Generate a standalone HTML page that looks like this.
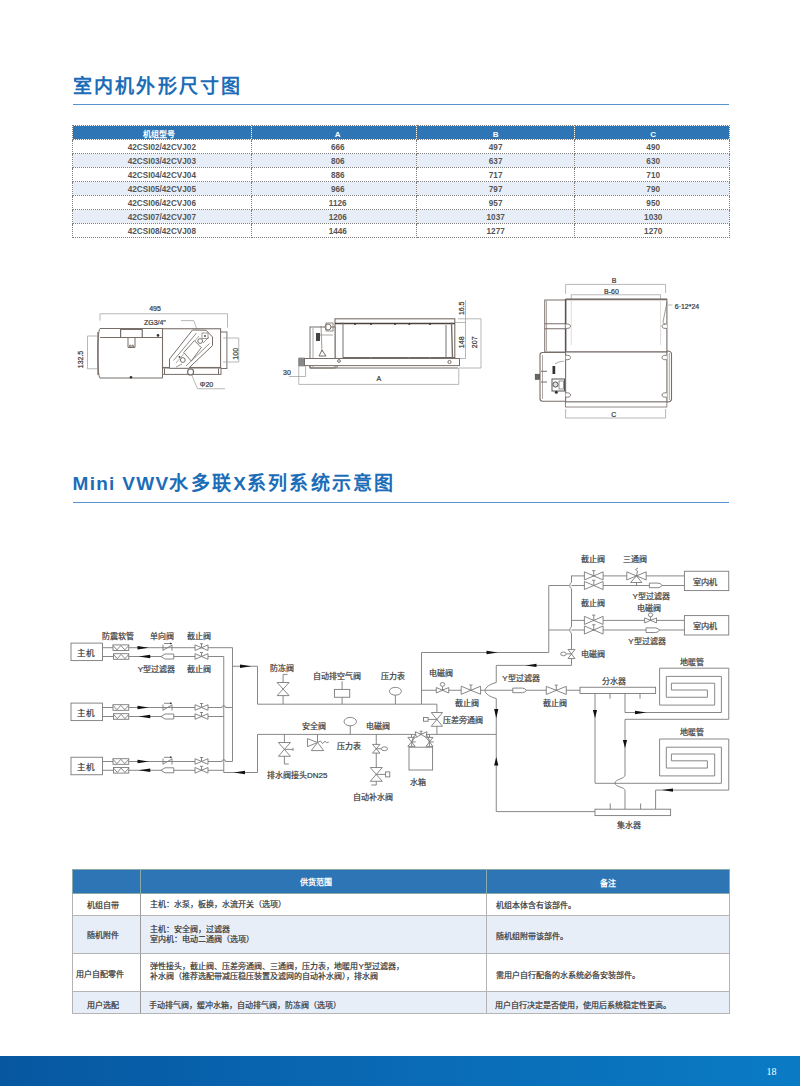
<!DOCTYPE html>
<html lang="zh-CN">
<head>
<meta charset="utf-8">
<style>
html,body{margin:0;padding:0;background:#fff;}
body{width:800px;height:1086px;position:relative;overflow:hidden;font-family:"Liberation Sans",sans-serif;color:#444;}
.abs{position:absolute;}
.title{position:absolute;left:72.5px;font-size:19px;letter-spacing:2.25px;font-weight:bold;color:#1c6db8;white-space:nowrap;line-height:1;}
.hr{position:absolute;left:73px;width:656px;height:1px;background:#5893cf;}
table{border-collapse:collapse;position:absolute;table-layout:fixed;}
.t1{left:72px;top:125px;width:657px;}
.t1 td,.t1 th{border:1px dotted #7d7d7d;padding:0;text-align:center;font-size:8.2px;line-height:1;color:#4a4a4a;overflow:hidden;white-space:nowrap;}
.t1 th{background:#2e75b6;color:#fff;font-weight:bold;height:13px;font-size:8px;}
.t1 td{height:10px;padding-top:3px;font-weight:bold;color:#555;}
.t1 tr.b td{background:#e8eef8;}
.t1 th:nth-child(1){padding-right:6px;}
.t1 td:nth-child(2),.t1 th:nth-child(2){padding-left:8px;}
.t1 td:nth-child(4),.t1 th:nth-child(4){padding-left:2px;}
.t2{left:72px;top:868.5px;width:657px;}
.t2 td,.t2 th{border:1px solid #b4b4b4;padding:0;font-size:8px;line-height:10px;color:#333;white-space:nowrap;-webkit-text-stroke:0.2px #333;}
.t2 th{background:#2e75b6;color:#fff;font-weight:bold;height:23.5px;text-align:center;-webkit-text-stroke:0;border-color:#8aa;}
.t2 td:nth-child(1){border-right-color:#999;}
.t2 td{text-align:left;padding-left:9px;}
.t2 td.c{text-align:center;padding-left:0;}
.t2 tr.b td{background:#e8eef8;}
.footer{position:absolute;left:0;top:1056px;width:800px;height:30px;background:linear-gradient(90deg,#0657a0 0%,#0a6ab5 50%,#0a7bc5 100%);}
.pn{position:absolute;left:766.5px;top:1066.2px;font-family:"Liberation Serif",serif;font-size:10px;color:#fff;}
svg{position:absolute;left:0;top:0;}
.hs{position:relative;top:2.5px;}
</style>
</head>
<body>
<div class="title" style="top:76.8px;">室内机外形尺寸图</div>
<div class="hr" style="top:104px;"></div>

<table class="t1">
<colgroup><col style="width:178.6px"><col style="width:165.3px"><col style="width:158.5px"><col style="width:154.6px"></colgroup>
<tr><th><span class="hs">机组型号</span></th><th><span class="hs">A</span></th><th><span class="hs">B</span></th><th><span class="hs">C</span></th></tr>
<tr><td>42CSI02/42CVJ02</td><td>666</td><td>497</td><td>490</td></tr>
<tr class="b"><td>42CSI03/42CVJ03</td><td>806</td><td>637</td><td>630</td></tr>
<tr><td>42CSI04/42CVJ04</td><td>886</td><td>717</td><td>710</td></tr>
<tr class="b"><td>42CSI05/42CVJ05</td><td>966</td><td>797</td><td>790</td></tr>
<tr><td>42CSI06/42CVJ06</td><td>1126</td><td>957</td><td>950</td></tr>
<tr class="b"><td>42CSI07/42CVJ07</td><td>1206</td><td>1037</td><td>1030</td></tr>
<tr><td>42CSI08/42CVJ08</td><td>1446</td><td>1277</td><td>1270</td></tr>
</table>

<div class="title" style="top:473.5px;"><span style="letter-spacing:1.3px">Mini VWV</span>水多联<span style="letter-spacing:1px">X</span>系列系统示意图</div>
<div class="hr" style="top:502px;"></div>

<table class="t2">
<colgroup><col style="width:68.4px"><col style="width:345.6px"><col style="width:243px"></colgroup>
<tr><th></th><th><span style="position:relative;left:2.5px;top:1.8px">供货范围</span></th><th><span style="position:relative;left:0;top:2.5px">备注</span></th></tr>
<tr><td class="c" style="height:21px"><span style="position:relative;left:-3.5px;top:1px">机组自带</span></td><td><span style="position:relative;left:0px;top:0.5px">主机：水泵，板换，水流开关（选项）</span></td><td><span style="position:relative;left:0px;top:1px">机组本体含有该部件。</span></td></tr>
<tr class="b"><td class="c" style="height:37px"><span style="position:relative;left:-4px;top:1.2px">随机附件</span></td><td><span style="position:relative;left:0px;top:0px">主机：安全阀，过滤器<br>室内机：电动二通阀（选项）</span></td><td><span style="position:relative;left:0px;top:2px">随机组附带该部件。</span></td></tr>
<tr><td class="c" style="height:37px"><span style="position:relative;left:-7px;top:2.5px">用户自配零件</span></td><td><span style="position:relative;left:0px;top:-0.5px">弹性接头，截止阀、压差旁通阀、三通阀，压力表，地暖用Y型过滤器，<br>补水阀（推荐选配带减压稳压装置及滤网的自动补水阀），排水阀</span></td><td><span style="position:relative;left:0px;top:3px">需用户自行配备的水系统必备安装部件。</span></td></tr>
<tr class="b"><td class="c" style="height:21px"><span style="position:relative;left:-3.5px;top:3px">用户选配</span></td><td><span style="position:relative;left:-1px;top:3px">手动排气阀，缓冲水箱，自动排气阀，防冻阀（选项）</span></td><td><span style="position:relative;left:-1px;top:3px">用户自行决定是否使用，使用后系统稳定性更高。</span></td></tr>
</table>

<svg width="800" height="1086" viewBox="0 0 800 1086">
<g fill="none" stroke="#776e69" stroke-width="1.0" font-family="Liberation Sans, sans-serif">
<polyline points="100,320.6 100,313.75 227.5,313.75 227.5,327.5" stroke="#9a9a9a" stroke-width="0.7"/>
<text x="155" y="310.6" font-size="7" text-anchor="middle" fill="#3a3a3a" stroke="#3a3a3a" stroke-width="0.22">495</text>
<text x="154.9" y="325.3" font-size="7" text-anchor="middle" fill="#3a3a3a" stroke="#3a3a3a" stroke-width="0.22">ZG3/4"</text>
<polyline points="181,320.6 193.75,320.6 197,329.5" stroke="#9a9a9a" stroke-width="0.7"/>
<path d="M100,328.5 L162.5,328.5 L162.5,378 L100,378 C97,376 97,331 100,328.5 Z" fill="#fff"/>
<line x1="98" y1="332" x2="98" y2="375" stroke-width="1.3"/>
<line x1="100" y1="337.5" x2="162.5" y2="337.5" />
<polyline points="120.6,337.5 120.6,329.5 142.25,329.5 142.25,337.5" stroke-width="1.2"/>
<polyline points="128,337.5 128,347.5 135,347.5 135,337.5" />
<circle cx="130.2" cy="346" r="0.9" fill="none"/>
<circle cx="132.8" cy="346" r="0.9" fill="none"/>
<circle cx="158" cy="335.4" r="1.3" fill="#333" stroke="none"/>
<circle cx="131" cy="377.2" r="1.3" fill="#333" stroke="none"/>
<polyline points="97,336 87.5,336 87.5,368.75 97,368.75" stroke="#9a9a9a" stroke-width="0.7"/>
<text transform="translate(80.3,359.5) rotate(-90)" x="0" y="0" font-size="7" text-anchor="middle" dominant-baseline="central" fill="#3a3a3a" stroke="#3a3a3a" stroke-width="0.22">132.5</text>
<rect x="162.5" y="328.75" width="58.1" height="38.75" fill="#fff" stroke-width="1.1"/>
<rect x="220.6" y="332" width="6.3" height="36.5" fill="#fff"/>
<rect x="162.5" y="368" width="58.5" height="6.4" fill="#fff"/>
<line x1="164.5" y1="368.5" x2="164.5" y2="374" />
<line x1="218.5" y1="368.5" x2="218.5" y2="374" />
<polygon points="192.5,330 206,330.2 212.5,337 212.5,345.6 188.5,368.3 169.5,368.3 169.5,359" fill="#fff" stroke-width="1"/>
<line x1="173.5" y1="360.5" x2="196.5" y2="333" stroke-width="0.8"/>
<line x1="176" y1="363" x2="199" y2="336" stroke-width="0.6"/>
<line x1="186" y1="366" x2="209.5" y2="343.5" stroke-width="0.8"/>
<polygon points="183.75,352.5 194.4,340.6 201.25,347.5 191.25,361" fill="#fff" stroke-width="0.9"/>
<circle cx="200.2" cy="341" r="2.4" fill="#fff" stroke-width="1"/>
<circle cx="182.8" cy="360" r="2.4" fill="#fff" stroke-width="1"/>
<rect x="202" y="333" width="6" height="5.5" fill="none" stroke-width="0.7"/>
<circle cx="205" cy="336" r="1" fill="#555" stroke="none"/>
<circle cx="179.5" cy="357" r="1" fill="#555" stroke="none"/>
<line x1="203" y1="343" x2="209" y2="337" stroke-width="0.7"/>
<line x1="176" y1="367" x2="182" y2="364" stroke-width="0.7"/>
<circle cx="190.6" cy="371.9" r="3" fill="#fff" stroke-width="1.2"/>
<polyline points="191.5,374.5 197.5,388.75 225,388.75" stroke="#9a9a9a" stroke-width="0.7"/>
<text x="206.5" y="387.3" font-size="7" text-anchor="middle" fill="#3a3a3a" stroke="#3a3a3a" stroke-width="0.22">Φ20</text>
<polyline points="223,338 238.75,338 238.75,362 223,362" stroke="#9a9a9a" stroke-width="0.7"/>
<text transform="translate(235.3,353.8) rotate(-90)" x="0" y="0" font-size="7" text-anchor="middle" dominant-baseline="central" fill="#3a3a3a" stroke="#3a3a3a" stroke-width="0.22">100</text>
<rect x="335" y="318.8" width="119.8" height="39.7" fill="#fff" stroke-width="1.1"/>
<line x1="335" y1="323.6" x2="454.8" y2="323.6" stroke-width="1.5" stroke="#4a4340"/>
<line x1="343" y1="358" x2="454.8" y2="358" stroke-width="1.5" stroke="#3e3835"/>
<line x1="343" y1="322.5" x2="343" y2="358.5" />
<line x1="446" y1="325" x2="446" y2="358" />
<line x1="451.5" y1="322.5" x2="452.5" y2="358" stroke-width="1.4"/>
<circle cx="355" cy="324" r="1" fill="#333" stroke="none"/>
<circle cx="371" cy="324" r="1" fill="#333" stroke="none"/>
<circle cx="395" cy="324" r="1" fill="#333" stroke="none"/>
<circle cx="409.3" cy="324" r="1" fill="#333" stroke="none"/>
<circle cx="430" cy="324" r="1" fill="#333" stroke="none"/>
<circle cx="371" cy="358" r="1.1" fill="#888" stroke="none"/>
<circle cx="409.3" cy="358" r="1.1" fill="#888" stroke="none"/>
<circle cx="430" cy="358" r="1.1" fill="#888" stroke="none"/>
<rect x="310" y="327" width="25" height="41" fill="#fff"/>
<line x1="313" y1="328" x2="313" y2="367" stroke-width="0.6"/>
<path d="M322,350 L326,356 L319,356 Z" fill="#fff"/>
<rect x="316" y="333" width="4" height="8" fill="#444" stroke="none"/>
<line x1="321" y1="326" x2="322" y2="352" stroke-width="0.7"/>
<circle cx="328" cy="327" r="3" fill="#fff"/>
<rect x="326" y="323" width="7" height="8" fill="none" stroke-width="0.8"/>
<line x1="320" y1="335" x2="333" y2="335" stroke-width="0.6"/>
<rect x="304.4" y="358.5" width="155.1" height="7.1" fill="#fff" stroke-width="1"/>
<line x1="310" y1="368" x2="458" y2="368" />
<line x1="310" y1="365.6" x2="310" y2="368" />
<line x1="337" y1="365.6" x2="337" y2="368" />
<rect x="298.75" y="358" width="5.65" height="8" fill="#999" stroke="#666" stroke-width="0.6"/>
<line x1="298.75" y1="360" x2="304.4" y2="360" stroke="#555" stroke-width="0.5"/>
<line x1="298.75" y1="362" x2="304.4" y2="362" stroke="#555" stroke-width="0.5"/>
<line x1="298.75" y1="364" x2="304.4" y2="364" stroke="#555" stroke-width="0.5"/>
<circle cx="339" cy="361" r="1.4" fill="#fff"/>
<circle cx="449.5" cy="362" r="1.6" fill="#fff"/>
<polyline points="289,376.5 305.6,376.5 305.6,366" stroke="#9a9a9a" stroke-width="0.7"/>
<text x="287" y="375.2" font-size="7" text-anchor="middle" fill="#3a3a3a" stroke="#3a3a3a" stroke-width="0.22">30</text>
<polyline points="298.75,366 298.75,384.4 458.75,384.4 458.75,368" stroke="#9a9a9a" stroke-width="0.7"/>
<text x="378.8" y="381" font-size="7" text-anchor="middle" fill="#3a3a3a" stroke="#3a3a3a" stroke-width="0.22">A</text>
<line x1="465.5" y1="300" x2="465.5" y2="358.5" stroke="#9a9a9a" stroke-width="0.7"/>
<line x1="458" y1="318.8" x2="481" y2="318.8" stroke="#9a9a9a" stroke-width="0.7"/>
<line x1="455" y1="322.5" x2="465.5" y2="322.5" stroke="#9a9a9a" stroke-width="0.7"/>
<line x1="459.5" y1="358.5" x2="465.5" y2="358.5" stroke="#9a9a9a" stroke-width="0.7"/>
<line x1="481" y1="318.8" x2="481" y2="368" stroke="#9a9a9a" stroke-width="0.7"/>
<line x1="459" y1="368" x2="481" y2="368" stroke="#9a9a9a" stroke-width="0.7"/>
<text transform="translate(461.5,308.3) rotate(-90)" x="0" y="0" font-size="7" text-anchor="middle" dominant-baseline="central" fill="#3a3a3a" stroke="#3a3a3a" stroke-width="0.22">16.5</text>
<text transform="translate(461.5,342.3) rotate(-90)" x="0" y="0" font-size="7" text-anchor="middle" dominant-baseline="central" fill="#3a3a3a" stroke="#3a3a3a" stroke-width="0.22">148</text>
<text transform="translate(474.8,342.3) rotate(-90)" x="0" y="0" font-size="7" text-anchor="middle" dominant-baseline="central" fill="#3a3a3a" stroke="#3a3a3a" stroke-width="0.22">207</text>
<polyline points="565.6,293.75 565.6,284.4 665.6,284.4 665.6,293" stroke="#9a9a9a" stroke-width="0.7"/>
<text x="614" y="282.5" font-size="7" text-anchor="middle" fill="#3a3a3a" stroke="#3a3a3a" stroke-width="0.22">B</text>
<polyline points="571.25,299 571.25,294.75 660.6,294.75 660.6,299" stroke="#9a9a9a" stroke-width="0.7"/>
<text x="611.4" y="293.5" font-size="7" text-anchor="middle" fill="#3a3a3a" stroke="#3a3a3a" stroke-width="0.22">B-60</text>
<rect x="544.75" y="300" width="20.85" height="52" fill="#fff"/>
<line x1="546.5" y1="301" x2="546.5" y2="351" stroke-width="0.6"/>
<line x1="544.75" y1="323.75" x2="565.6" y2="323.75" />
<line x1="544.75" y1="328.75" x2="565.6" y2="328.75" />
<path d="M565.6,352.5 L542.5,352.5 Q540,352.5 540,355 L540,398.5 Q540,401.2 542.5,401.2 L565.6,401.2" fill="#fff" stroke-width="1.1"/>
<line x1="542.5" y1="355" x2="542.5" y2="399" stroke-width="0.6"/>
<rect x="535.2" y="374.2" width="4.4" height="5.2" fill="#666" stroke="#444" stroke-width="0.6"/>
<line x1="541" y1="371.3" x2="547" y2="371.3" />
<line x1="541" y1="382" x2="547" y2="382" />
<rect x="552" y="379" width="12.5" height="12" fill="#fff" stroke="#555" stroke-width="1"/>
<circle cx="555.5" cy="384.5" r="2.6" fill="#ddd" stroke="#444" stroke-width="0.9"/>
<rect x="559" y="381" width="4.5" height="8" fill="none" stroke="#666" stroke-width="0.7"/>
<circle cx="556.3" cy="392.2" r="1.5" fill="#333" stroke="none"/>
<rect x="552.5" y="366" width="2.7" height="8" fill="#333" stroke="none"/>
<path d="M555,363.8 Q558,361.5 563.8,361.2" fill="none" stroke-width="0.6"/>
<line x1="579" y1="402.5" x2="579" y2="404.5" stroke-width="0.6"/>
<line x1="603" y1="402.5" x2="603" y2="404.5" stroke-width="0.6"/>
<line x1="628" y1="402.5" x2="628" y2="404.5" stroke-width="0.6"/>
<line x1="652" y1="402.5" x2="652" y2="404.5" stroke-width="0.6"/>
<rect x="565.6" y="299.4" width="101.3" height="52.6" fill="#fff" stroke-width="1.1"/>
<line x1="565.6" y1="299.4" x2="666.9" y2="299.4" stroke-width="1.8" stroke="#7a706a"/>
<line x1="565.6" y1="299.4" x2="565.6" y2="352" stroke-width="1.5" stroke="#555"/>
<line x1="571.25" y1="301" x2="571.25" y2="345" stroke-width="0.5" stroke="#bbb"/>
<line x1="660.6" y1="301" x2="660.6" y2="345" stroke-width="0.5" stroke="#bbb"/>
<rect x="565.6" y="352" width="101.3" height="50" fill="#fff" stroke-width="1.1"/>
<rect x="565.6" y="402" width="101.3" height="5" fill="#fff" stroke-width="0.8"/>
<path d="M667,351 Q671.5,351 671.5,354 L671.5,399 Q671.5,402 667,402" fill="none" stroke-width="1.1"/>
<line x1="669.3" y1="353" x2="669.3" y2="400" stroke-width="0.6"/>
<path d="M565.6,324 Q570.5,323.7 570.5,326.2 Q570.5,328.7 565.6,328.4" fill="#fff" stroke-width="0.9"/>
<path d="M565.6,355.3 Q570.5,355 570.5,357.5 Q570.5,360 565.6,359.7" fill="#fff" stroke-width="0.9"/>
<path d="M565.6,392.8 Q570.5,392.5 570.5,395 Q570.5,397.5 565.6,397.2" fill="#fff" stroke-width="0.9"/>
<path d="M666.9,324 Q662,323.7 662,326.2 Q662,328.7 666.9,328.4" fill="#fff" stroke-width="0.9"/>
<path d="M666.9,355.3 Q662,355 662,357.5 Q662,360 666.9,359.7" fill="#fff" stroke-width="0.9"/>
<path d="M666.9,392.8 Q662,392.5 662,395 Q662,397.5 666.9,397.2" fill="#fff" stroke-width="0.9"/>
<polyline points="667,302 663,322 665,325" stroke-width="0.7"/>
<line x1="668" y1="305" x2="672.5" y2="305" stroke="#9a9a9a" stroke-width="0.7"/>
<text x="687" y="308.6" font-size="7" text-anchor="middle" fill="#3a3a3a" stroke="#3a3a3a" stroke-width="0.22">6·12*24</text>
<polyline points="565.6,409 565.6,418 665.6,418 665.6,409" stroke="#9a9a9a" stroke-width="0.7"/>
<text x="613.75" y="417" font-size="7" text-anchor="middle" fill="#3a3a3a" stroke="#3a3a3a" stroke-width="0.22">C</text>
</g>
<g fill="none" stroke="#7a7a7a" stroke-width="0.9" font-family="Liberation Sans, sans-serif">
<rect x="71" y="643.1" width="31.5" height="17.5" fill="#fff"/>
<text x="86.3" y="656.1" font-size="8.5" text-anchor="middle" fill="#3d3d3d" stroke="#3d3d3d" stroke-width="0.22">主机</text>
<polyline points="102.5,647.7 232.5,647.7"/>
<line x1="102.5" y1="656.5" x2="223.75" y2="656.5"/>
<rect x="113" y="644.9" width="15.75" height="5.6" fill="#fff"/>
<polyline points="113,645.5 116.94,649.9 120.88,645.5 124.81,649.9 128.75,645.5"/>
<rect x="113.5" y="653.7" width="15.25" height="5.6" fill="#fff"/>
<polyline points="113.5,654.3 117.31,658.7 121.12,654.3 124.94,658.7 128.75,654.3"/>
<polygon fill="#111" stroke="none" points="137.5,646 148.75,647.7 137.5,649.4"/>
<polygon fill="#111" stroke="none" points="150.25,654.8 138.6,656.5 150.25,658.2"/>
<line x1="163" y1="644.7" x2="163" y2="650.7"/>
<line x1="172" y1="644.7" x2="172" y2="650.7"/>
<line x1="163" y1="650.2" x2="172" y2="645.2"/>
<line x1="164" y1="643.5" x2="172" y2="643.5"/>
<polygon fill="#333" stroke="none" points="170,642.5 172,643.5 170,644.5"/>
<polygon fill="#fff" points="161,656.5 165,654 173.75,654 173.75,659 165,659"/>
<polygon fill="#fff" points="195,644.9 201.5,647.7 195,650.5"/>
<polygon fill="#fff" points="208,644.9 201.5,647.7 208,650.5"/>
<line x1="201.5" y1="647.7" x2="201.5" y2="643.7"/>
<line x1="199.9" y1="643.7" x2="203.1" y2="643.7"/>
<polygon fill="#fff" points="195,653.7 201.5,656.5 195,659.3"/>
<polygon fill="#fff" points="208,653.7 201.5,656.5 208,659.3"/>
<line x1="201.5" y1="656.5" x2="201.5" y2="652.5"/>
<line x1="199.9" y1="652.5" x2="203.1" y2="652.5"/>
<rect x="71" y="703.1" width="31.5" height="17.5" fill="#fff"/>
<text x="86.3" y="716.1" font-size="8.5" text-anchor="middle" fill="#3d3d3d" stroke="#3d3d3d" stroke-width="0.22">主机</text>
<line x1="102.5" y1="707.5" x2="221.95" y2="707.5"/>
<path d="M221.95,707.5 A1.8,1.8 0 0 1 225.55,707.5" fill="none"/>
<line x1="225.55" y1="707.5" x2="232.5" y2="707.5"/>
<line x1="102.5" y1="716.5" x2="223.75" y2="716.5"/>
<rect x="113" y="704.7" width="15.75" height="5.6" fill="#fff"/>
<polyline points="113,705.3 116.94,709.7 120.88,705.3 124.81,709.7 128.75,705.3"/>
<rect x="113.5" y="713.7" width="15.25" height="5.6" fill="#fff"/>
<polyline points="113.5,714.3 117.31,718.7 121.12,714.3 124.94,718.7 128.75,714.3"/>
<polygon fill="#111" stroke="none" points="137.5,705.8 148.75,707.5 137.5,709.2"/>
<polygon fill="#111" stroke="none" points="150.25,714.8 138.6,716.5 150.25,718.2"/>
<line x1="163" y1="704.5" x2="163" y2="710.5"/>
<line x1="172" y1="704.5" x2="172" y2="710.5"/>
<line x1="163" y1="710" x2="172" y2="705"/>
<line x1="164" y1="703.3" x2="172" y2="703.3"/>
<polygon fill="#333" stroke="none" points="170,702.3 172,703.3 170,704.3"/>
<polygon fill="#fff" points="161,716.5 165,714 173.75,714 173.75,719 165,719"/>
<polygon fill="#fff" points="195,704.7 201.5,707.5 195,710.3"/>
<polygon fill="#fff" points="208,704.7 201.5,707.5 208,710.3"/>
<line x1="201.5" y1="707.5" x2="201.5" y2="703.5"/>
<line x1="199.9" y1="703.5" x2="203.1" y2="703.5"/>
<polygon fill="#fff" points="195,713.7 201.5,716.5 195,719.3"/>
<polygon fill="#fff" points="208,713.7 201.5,716.5 208,719.3"/>
<line x1="201.5" y1="716.5" x2="201.5" y2="712.5"/>
<line x1="199.9" y1="712.5" x2="203.1" y2="712.5"/>
<rect x="71" y="757.25" width="31.5" height="17.5" fill="#fff"/>
<text x="86.3" y="770.25" font-size="8.5" text-anchor="middle" fill="#3d3d3d" stroke="#3d3d3d" stroke-width="0.22">主机</text>
<line x1="102.5" y1="761.5" x2="221.95" y2="761.5"/>
<path d="M221.95,761.5 A1.8,1.8 0 0 1 225.55,761.5" fill="none"/>
<line x1="225.55" y1="761.5" x2="232.5" y2="761.5"/>
<line x1="102.5" y1="770.3" x2="223.75" y2="770.3"/>
<rect x="113" y="758.7" width="15.75" height="5.6" fill="#fff"/>
<polyline points="113,759.3 116.94,763.7 120.88,759.3 124.81,763.7 128.75,759.3"/>
<rect x="113.5" y="767.5" width="15.25" height="5.6" fill="#fff"/>
<polyline points="113.5,768.1 117.31,772.5 121.12,768.1 124.94,772.5 128.75,768.1"/>
<polygon fill="#111" stroke="none" points="137.5,759.8 148.75,761.5 137.5,763.2"/>
<polygon fill="#111" stroke="none" points="150.25,768.6 138.6,770.3 150.25,772"/>
<line x1="163" y1="758.5" x2="163" y2="764.5"/>
<line x1="172" y1="758.5" x2="172" y2="764.5"/>
<line x1="163" y1="764" x2="172" y2="759"/>
<line x1="164" y1="757.3" x2="172" y2="757.3"/>
<polygon fill="#333" stroke="none" points="170,756.3 172,757.3 170,758.3"/>
<polygon fill="#fff" points="161,770.3 165,767.8 173.75,767.8 173.75,772.8 165,772.8"/>
<polygon fill="#fff" points="195,758.7 201.5,761.5 195,764.3"/>
<polygon fill="#fff" points="208,758.7 201.5,761.5 208,764.3"/>
<line x1="201.5" y1="761.5" x2="201.5" y2="757.5"/>
<line x1="199.9" y1="757.5" x2="203.1" y2="757.5"/>
<polygon fill="#fff" points="195,767.5 201.5,770.3 195,773.1"/>
<polygon fill="#fff" points="208,767.5 201.5,770.3 208,773.1"/>
<line x1="201.5" y1="770.3" x2="201.5" y2="766.3"/>
<line x1="199.9" y1="766.3" x2="203.1" y2="766.3"/>
<line x1="232.5" y1="647.7" x2="232.5" y2="761.5"/>
<line x1="223.75" y1="656.5" x2="223.75" y2="772.5"/>
<text x="117.5" y="638.6" font-size="8" text-anchor="middle" fill="#3d3d3d" stroke="#3d3d3d" stroke-width="0.22">防震软管</text>
<text x="162.2" y="638.6" font-size="8" text-anchor="middle" fill="#3d3d3d" stroke="#3d3d3d" stroke-width="0.22">单向阀</text>
<text x="199" y="638.6" font-size="8" text-anchor="middle" fill="#3d3d3d" stroke="#3d3d3d" stroke-width="0.22">截止阀</text>
<text x="156.5" y="672.4" font-size="8" text-anchor="middle" fill="#3d3d3d" stroke="#3d3d3d" stroke-width="0.22">Y型过滤器</text>
<text x="199" y="672.4" font-size="8" text-anchor="middle" fill="#3d3d3d" stroke="#3d3d3d" stroke-width="0.22">截止阀</text>
<polyline points="232.5,666.25 257.5,666.25 257.5,704.2"/>
<polygon fill="#111" stroke="none" points="240,664.55 251.25,666.25 240,667.95"/>
<polyline points="223.75,772.5 257.5,772.5 257.5,734.4"/>
<polygon fill="#111" stroke="none" points="245,770.8 233.75,772.5 245,774.2"/>
<line x1="257.5" y1="704.2" x2="436.9" y2="704.2"/>
<line x1="436.9" y1="704.2" x2="436.9" y2="734.4"/>
<polygon fill="#fff" points="431.27,712.52 436.9,719.4 442.52,712.52"/>
<polygon fill="#fff" points="431.27,726.27 436.9,719.4 442.52,726.27"/>
<rect x="423.5" y="717.5" width="4.6" height="3.75" fill="#fff"/>
<line x1="428.1" y1="719.4" x2="436.9" y2="719.4"/>
<text x="462.7" y="723.2" font-size="8" text-anchor="middle" fill="#3d3d3d" stroke="#3d3d3d" stroke-width="0.22">压差旁通阀</text>
<line x1="283.1" y1="704.2" x2="283.1" y2="674.4"/>
<line x1="283.1" y1="674.4" x2="287.5" y2="674.4"/>
<polygon fill="#fff" points="277.1,682.5 283.1,689.05 289.1,682.5"/>
<polygon fill="#fff" points="277.1,695.6 283.1,689.05 289.1,695.6"/>
<text x="282.2" y="671.2" font-size="8" text-anchor="middle" fill="#3d3d3d" stroke="#3d3d3d" stroke-width="0.22">防冻阀</text>
<line x1="342.1" y1="704.2" x2="342.1" y2="681.25"/>
<rect x="334.4" y="689.4" width="15.35" height="7.85" fill="#fff"/>
<text x="337.2" y="678.8" font-size="8" text-anchor="middle" fill="#3d3d3d" stroke="#3d3d3d" stroke-width="0.22">自动排空气阀</text>
<line x1="395.4" y1="704.2" x2="395.4" y2="695"/>
<ellipse cx="395.4" cy="691.25" rx="6" ry="3.9" fill="#fff"/>
<text x="393.1" y="679.4" font-size="8" text-anchor="middle" fill="#3d3d3d" stroke="#3d3d3d" stroke-width="0.22">压力表</text>
<polyline points="421.5,704.2 421.5,652.5 548.75,652.5 548.75,585.5"/>
<polygon fill="#111" stroke="none" points="486.5,650.8 497.8,652.5 486.5,654.2"/>
<line x1="421.5" y1="690.25" x2="580" y2="690.25"/>
<polygon fill="#fff" points="436.25,687.5 442.5,690.25 436.25,693"/>
<polygon fill="#fff" points="448.75,687.5 442.5,690.25 448.75,693"/>
<line x1="442.5" y1="690.25" x2="442.5" y2="686.3"/>
<ellipse cx="442.5" cy="684.4" rx="2.28" ry="1.9" fill="#fff"/>
<text x="440.6" y="676.2" font-size="8" text-anchor="middle" fill="#3d3d3d" stroke="#3d3d3d" stroke-width="0.22">电磁阀</text>
<polygon fill="#fff" points="461.2,686.2 470.9,690.25 461.2,694.3"/>
<polygon fill="#fff" points="480.6,686.2 470.9,690.25 480.6,694.3"/>
<line x1="470.9" y1="690.25" x2="470.9" y2="685"/>
<line x1="469.3" y1="685" x2="472.5" y2="685"/>
<text x="467" y="706.2" font-size="8" text-anchor="middle" fill="#3d3d3d" stroke="#3d3d3d" stroke-width="0.22">截止阀</text>
<path d="M496.25,665.4 L496.25,682.5 C490,684 485,687.5 485,690.6 C485,693.5 490,697 496.25,698.5 L496.25,811.6 L595,811.6" fill="none"/>
<polygon fill="#111" stroke="none" points="494.15,709 496.25,718.3 498.35,709"/>
<polygon fill="#111" stroke="none" points="494.15,765.5 496.25,757 498.35,765.5"/>
<path d="M512.75,688.1 L522.25,688.1 Q525.25,688.1 526.25,690.4 Q525.25,692.7 522.25,692.7 L512.75,692.7 Z" fill="#fff"/>
<text x="520.9" y="681.2" font-size="8" text-anchor="middle" fill="#3d3d3d" stroke="#3d3d3d" stroke-width="0.22">Y型过滤器</text>
<polygon fill="#fff" points="546.25,686.35 556.25,690.4 546.25,694.45"/>
<polygon fill="#fff" points="566.25,686.35 556.25,690.4 566.25,694.45"/>
<line x1="556.25" y1="690.4" x2="556.25" y2="685.15"/>
<line x1="554.65" y1="685.15" x2="557.85" y2="685.15"/>
<text x="554.6" y="706.2" font-size="8" text-anchor="middle" fill="#3d3d3d" stroke="#3d3d3d" stroke-width="0.22">截止阀</text>
<line x1="257.5" y1="734.4" x2="496.25" y2="734.4"/>
<line x1="284.4" y1="734.4" x2="284.4" y2="742.5"/>
<polygon fill="#fff" points="278.4,742.52 284.4,749.4 290.4,742.52"/>
<polygon fill="#fff" points="278.4,756.27 284.4,749.4 290.4,756.27"/>
<line x1="284.4" y1="749.4" x2="293" y2="749.4"/>
<line x1="293" y1="747.8" x2="293" y2="751"/>
<polyline points="284.4,756.25 284.4,764 288.75,764"/>
<text x="297.2" y="778" font-size="8" text-anchor="middle" fill="#3d3d3d" stroke="#3d3d3d" stroke-width="0.22">排水阀接头DN25</text>
<line x1="317.5" y1="734.4" x2="317.5" y2="742.5"/>
<polygon fill="#fff" points="307.5,738.6 317.5,742.5 307.5,746.6"/>
<polygon fill="#fff" points="317.5,742.5 311.25,750.6 323.75,750.6"/>
<polyline points="317.5,742.5 320.5,741 322.5,743.5 325,741.2 326.5,742.6 328.75,742.2"/>
<text x="314.3" y="728.7" font-size="8" text-anchor="middle" fill="#3d3d3d" stroke="#3d3d3d" stroke-width="0.22">安全阀</text>
<line x1="350.25" y1="734.4" x2="350.25" y2="725.8"/>
<ellipse cx="350.25" cy="721.6" rx="6.2" ry="4.2" fill="#fff"/>
<text x="349" y="748.7" font-size="8" text-anchor="middle" fill="#3d3d3d" stroke="#3d3d3d" stroke-width="0.22">压力表</text>
<line x1="376.25" y1="734.4" x2="376.25" y2="785"/>
<line x1="376.25" y1="785" x2="371.25" y2="785"/>
<polygon fill="#fff" points="372.5,744.4 376.25,748.75 380,744.4"/>
<polygon fill="#fff" points="372.5,753.1 376.25,748.75 380,753.1"/>
<line x1="376.25" y1="748.75" x2="381.3" y2="748.75"/>
<ellipse cx="384.4" cy="748.75" rx="3.1" ry="1.9" fill="#fff"/>
<text x="377.8" y="728.7" font-size="8" text-anchor="middle" fill="#3d3d3d" stroke="#3d3d3d" stroke-width="0.22">电磁阀</text>
<polygon fill="#fff" points="370.25,767.52 376.25,774.4 382.25,767.52"/>
<polygon fill="#fff" points="370.25,781.27 376.25,774.4 382.25,781.27"/>
<line x1="376.25" y1="774.4" x2="385.6" y2="774.4"/>
<rect x="385.6" y="771.9" width="4.15" height="5" fill="#fff"/>
<text x="372.5" y="800" font-size="8" text-anchor="middle" fill="#3d3d3d" stroke="#3d3d3d" stroke-width="0.22">自动补水阀</text>
<rect x="409" y="747.2" width="23.6" height="22.8" fill="#fff"/>
<line x1="411.5" y1="734.4" x2="411.5" y2="737.4"/>
<line x1="429.5" y1="734.4" x2="429.5" y2="737.4"/>
<polygon fill="#fff" points="407.85,737.4 411.5,741.9 415.15,737.4"/>
<polygon fill="#fff" points="407.85,746.4 411.5,741.9 415.15,746.4"/>
<polygon fill="#fff" points="426,737.4 429.5,741.9 433,737.4"/>
<polygon fill="#fff" points="426,746.4 429.5,741.9 433,746.4"/>
<line x1="411.5" y1="741.9" x2="415.8" y2="741.9"/>
<line x1="429.5" y1="741.9" x2="433.8" y2="741.9"/>
<path d="M411.5,746 Q412,732 421.1,734.3 Q430,732 429.5,746" fill="none"/>
<polygon fill="#fff" points="415.3,731.7 421.1,734.4 416.3,737.4"/>
<polygon fill="#fff" points="427,731.7 421.1,734.4 426,737.4"/>
<line x1="421.1" y1="734.4" x2="421.1" y2="731.2"/>
<line x1="419.6" y1="731.2" x2="422.6" y2="731.2"/>
<text x="418.1" y="784.9" font-size="8" text-anchor="middle" fill="#3d3d3d" stroke="#3d3d3d" stroke-width="0.22">水箱</text>
<line x1="548.75" y1="585.5" x2="569.3" y2="585.5"/>
<line x1="571.5" y1="585.5" x2="684.4" y2="585.5"/>
<line x1="548.75" y1="630" x2="569.3" y2="630"/>
<line x1="571.5" y1="630" x2="684.4" y2="630"/>
<path d="M571.5,575.6 L571.5,582.3 C569.3,583.3 569.3,587.7 571.5,588.7 L571.5,626.8 C569.3,627.8 569.3,632.2 571.5,633.2 L571.5,665.4 L496.25,665.4" fill="none"/>
<line x1="571.5" y1="575.9" x2="684.4" y2="575.9"/>
<line x1="571.5" y1="620.4" x2="684.4" y2="620.4"/>
<polygon fill="#111" stroke="none" points="536.5,663.7 525.6,665.4 536.5,667.1"/>
<polygon fill="#fff" points="568,649.45 571.5,654 575,649.45"/>
<polygon fill="#fff" points="568,658.55 571.5,654 575,658.55"/>
<line x1="571.5" y1="653.9" x2="566.3" y2="653.9"/>
<ellipse cx="563.4" cy="653.9" rx="2.8" ry="1.9" fill="#fff"/>
<text x="593.2" y="657" font-size="8" text-anchor="middle" fill="#3d3d3d" stroke="#3d3d3d" stroke-width="0.22">电磁阀</text>
<polygon fill="#fff" points="584.4,571.85 593.75,575.9 584.4,579.95"/>
<polygon fill="#fff" points="603.1,571.85 593.75,575.9 603.1,579.95"/>
<line x1="593.75" y1="575.9" x2="593.75" y2="570.65"/>
<line x1="592.15" y1="570.65" x2="595.35" y2="570.65"/>
<polygon fill="#fff" points="584.4,581.45 593.75,585.5 584.4,589.55"/>
<polygon fill="#fff" points="603.1,581.45 593.75,585.5 603.1,589.55"/>
<line x1="593.75" y1="585.5" x2="593.75" y2="580.25"/>
<line x1="592.15" y1="580.25" x2="595.35" y2="580.25"/>
<polygon fill="#fff" points="584.4,616.35 593.75,620.4 584.4,624.45"/>
<polygon fill="#fff" points="603.1,616.35 593.75,620.4 603.1,624.45"/>
<line x1="593.75" y1="620.4" x2="593.75" y2="615.15"/>
<line x1="592.15" y1="615.15" x2="595.35" y2="615.15"/>
<polygon fill="#fff" points="584.4,625.95 593.75,630 584.4,634.05"/>
<polygon fill="#fff" points="603.1,625.95 593.75,630 603.1,634.05"/>
<line x1="593.75" y1="630" x2="593.75" y2="624.75"/>
<line x1="592.15" y1="624.75" x2="595.35" y2="624.75"/>
<text x="592.8" y="561.8" font-size="8" text-anchor="middle" fill="#3d3d3d" stroke="#3d3d3d" stroke-width="0.22">截止阀</text>
<text x="592.8" y="605.5" font-size="8" text-anchor="middle" fill="#3d3d3d" stroke="#3d3d3d" stroke-width="0.22">截止阀</text>
<polygon fill="#fff" points="626.8,571.85 636.5,575.9 626.8,579.95"/>
<polygon fill="#fff" points="646.2,571.85 636.5,575.9 646.2,579.95"/>
<polygon fill="#fff" points="636.5,575.9 630.6,582.5 641.9,582.5"/>
<line x1="636.5" y1="582.5" x2="636.5" y2="585.5"/>
<polyline points="636.5,575.9 637.5,571 635.5,569.5 638,568"/>
<text x="635.3" y="561.8" font-size="8" text-anchor="middle" fill="#3d3d3d" stroke="#3d3d3d" stroke-width="0.22">三通阀</text>
<path d="M649.4,583.1 L657.9,583.1 Q660.9,583.1 661.9,585.4 Q660.9,587.7 657.9,587.7 L649.4,587.7 Z" fill="#fff"/>
<text x="651.2" y="599.3" font-size="8" text-anchor="middle" fill="#3d3d3d" stroke="#3d3d3d" stroke-width="0.22">Y型过滤器</text>
<polygon fill="#fff" points="644.65,617.9 650.6,620.4 644.65,622.9"/>
<polygon fill="#fff" points="656.55,617.9 650.6,620.4 656.55,622.9"/>
<line x1="650.6" y1="620.4" x2="650.6" y2="616.7"/>
<ellipse cx="650.6" cy="614.8" rx="2.28" ry="1.9" fill="#fff"/>
<text x="649.3" y="611.2" font-size="8" text-anchor="middle" fill="#3d3d3d" stroke="#3d3d3d" stroke-width="0.22">电磁阀</text>
<path d="M646,627.9 L655.4,627.9 Q658.4,627.9 659.4,630.2 Q658.4,632.5 655.4,632.5 L646,632.5 Z" fill="#fff"/>
<text x="647" y="644.4" font-size="8" text-anchor="middle" fill="#3d3d3d" stroke="#3d3d3d" stroke-width="0.22">Y型过滤器</text>
<rect x="684.4" y="571.25" width="44.35" height="19.35" fill="#fff"/>
<text x="705" y="585.1" font-size="8.2" text-anchor="middle" fill="#3d3d3d" stroke="#3d3d3d" stroke-width="0.22">室内机</text>
<rect x="684.4" y="615.6" width="44.35" height="19.4" fill="#fff"/>
<text x="705" y="629.4" font-size="8.2" text-anchor="middle" fill="#3d3d3d" stroke="#3d3d3d" stroke-width="0.22">室内机</text>
<rect x="580" y="687.25" width="75.6" height="6.25" fill="#fff"/>
<text x="613.75" y="684.3" font-size="8" text-anchor="middle" fill="#3d3d3d" stroke="#3d3d3d" stroke-width="0.22">分水器</text>
<line x1="595" y1="693.5" x2="595" y2="783.1"/>
<polygon fill="#111" stroke="none" points="592.9,710 595,718.3 597.1,710"/>
<line x1="610" y1="693.5" x2="610" y2="698.75"/>
<line x1="640" y1="693.5" x2="640" y2="698.75"/>
<polyline points="625,693.5 625,712.5"/>
<polyline points="625,712.5 721.4,712.5 721.4,676.4 666.3,676.4 666.3,697.25 707.4,697.25 707.4,690 671.4,690 671.4,683.2 714.7,683.2 714.7,705.1 659.6,705.1 659.6,668.2 728.75,668.2 728.75,719.3 625,719.3"/>
<polygon fill="#111" stroke="none" points="635,710.8 646.5,712.5 635,714.2"/>
<polyline points="595,783.3 721.4,783.3 721.4,747.2 666.3,747.2 666.3,768.05 707.4,768.05 707.4,760.8 671.4,760.8 671.4,754 714.7,754 714.7,775.9 659.6,775.9 659.6,739 728.75,739 728.75,790.1 655.6,790.1 655.6,809.2"/>
<polygon fill="#111" stroke="none" points="673,788.4 661.8,790.1 673,791.8"/>
<path d="M625,719.3 L625,775 C625,779 615,779 615,783.1 C615,787 625,787 625,790.6 L625,809.2" fill="none"/>
<polygon fill="#111" stroke="none" points="622.9,740 625,748.3 627.1,740"/>
<text x="691.6" y="664.5" font-size="8" text-anchor="middle" fill="#3d3d3d" stroke="#3d3d3d" stroke-width="0.22">地暖管</text>
<text x="691.6" y="734.5" font-size="8" text-anchor="middle" fill="#3d3d3d" stroke="#3d3d3d" stroke-width="0.22">地暖管</text>
<rect x="595" y="809.2" width="75.6" height="6.4" fill="#fff"/>
<line x1="610.25" y1="803.5" x2="610.25" y2="809.2"/>
<line x1="640.6" y1="803.5" x2="640.6" y2="809.2"/>
<text x="629.4" y="828" font-size="8" text-anchor="middle" fill="#3d3d3d" stroke="#3d3d3d" stroke-width="0.22">集水器</text>
</g>
</svg>
<div class="footer"></div>
<div class="pn">18</div>
</body>
</html>
